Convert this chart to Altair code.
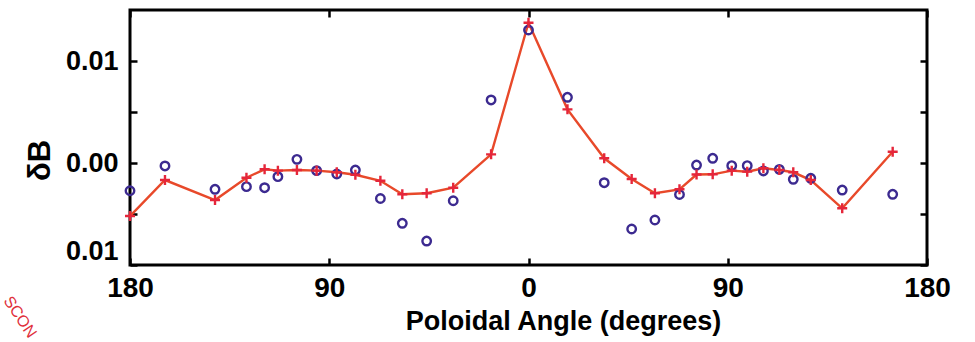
import altair as alt
import pandas as pd

# Poloidal angle of each probe (degrees)
angle = [-180.0, -164.2, -141.6, -127.4, -119.2, -113.2, -104.6, -95.7, -86.6, -78.2,
         -66.9, -57.0, -46.0, -34.0, -16.9, 0.0, 17.6, 34.2, 46.6, 57.1,
         68.2, 75.9, 83.2, 91.8, 98.8, 106.1, 113.3, 119.6, 127.5, 141.7, 164.5]
# measured dB (open circles)
measured = [-0.00272, -0.00029, -0.00258, -0.00232, -0.00242, -0.00134, 0.00036, -0.00075, -0.00108, -0.00069,
            -0.00348, -0.00591, -0.00765, -0.00370, 0.00618, 0.01304, 0.00644, -0.00193, -0.00647, -0.00559,
            -0.00309, -0.00020, 0.00046, -0.00026, -0.00026, -0.00078, -0.00062, -0.00160, -0.00150, -0.00265, -0.00307]
# model dB (line with crosses)
model = [-0.00520, -0.00167, -0.00363, -0.00144, -0.00062, -0.00075, -0.00069, -0.00075, -0.00091, -0.00115,
         -0.00174, -0.00307, -0.00297, -0.00242, 0.00085, 0.01375, 0.00526, 0.00046, -0.00157, -0.00297,
         -0.00258, -0.00113, -0.00111, -0.00075, -0.00085, -0.00052, -0.00069, -0.00091, -0.00167, -0.00444, 0.00111]

x_ticks = [-180, -90, 0, 90, 180]
y_ticks = [-0.01, -0.005, 0.0, 0.005, 0.01]

df = pd.DataFrame({"angle": angle, "measured": measured, "model": model})

FONT = "Liberation Sans, Arial, sans-serif"
xscale = alt.Scale(domain=[-180, 180], nice=False, zero=False)
yscale = alt.Scale(domain=[-0.01, 0.015], nice=False, zero=False)

common_axis = dict(domain=False, tickSize=7, tickWidth=2.5, tickColor="black", offset=-7, grid=False)

x_main = alt.X("angle:Q", scale=xscale, axis=alt.Axis(
    orient="bottom", values=x_ticks, labelExpr="format(abs(datum.value), 'd')",
    labelFont=FONT, labelFontSize=28, labelFontWeight="bold", labelColor="black",
    labelPadding=9, labelOverlap=False, labelFlush=False,
    title="Poloidal Angle (degrees)", titleFont=FONT, titleFontSize=27, titleFontWeight="bold",
    titleColor="black", titleX=433, titleY=50, titleAlign="center", titleBaseline="top",
    **common_axis))
y_main = alt.Y("model:Q", scale=yscale, axis=alt.Axis(
    orient="left", values=y_ticks,
    labelExpr="abs(datum.value) == 0.005 ? '' : format(abs(datum.value), '.2f')",
    labelFont=FONT, labelFontSize=27, labelFontWeight="bold", labelColor="black",
    labelPadding=12, labelOverlap=False, labelFlush=True,
    title="δB", titleFont=FONT, titleFontSize=31, titleFontWeight="bold", titleColor="black",
    titleAngle=270, titleX=-97, titleY=150, titleAlign="center", titleBaseline="middle",
    **common_axis))

x_top = alt.X("angle:Q", scale=xscale, axis=alt.Axis(
    orient="top", values=x_ticks, labels=False, title=None, **common_axis))
y_right = alt.Y("measured:Q", scale=yscale, axis=alt.Axis(
    orient="right", values=y_ticks, labels=False, title=None, **common_axis))

line = alt.Chart(df).mark_line(color="#e8492a", strokeWidth=2.4).encode(x=x_main, y=y_main)

circles = alt.Chart(df).mark_point(shape="circle", filled=False, size=72, strokeWidth=2.4,
                                   color="#3c2a90", opacity=1).encode(x=x_top, y=y_right)

crosses = alt.Chart(df).mark_point(shape="M-1,0L1,0M0,-1L0,1", filled=False, size=100,
                                   strokeWidth=2.4, color="#e5263a", opacity=1).encode(
    x=alt.X("angle:Q", scale=xscale, axis=None),
    y=alt.Y("model:Q", scale=yscale, axis=None))

stamp = alt.Chart(pd.DataFrame({"t": ["SCON"]})).mark_text(
    color="#e0303a", fontSize=16, angle=56, font="Liberation Sans, sans-serif",
    align="center", baseline="middle").encode(
    text="t:N", x=alt.value(-110), y=alt.value(307))

chart = alt.layer(line, circles, crosses, stamp).resolve_axis(
    x="independent", y="independent"
).properties(
    width=797, height=255,
    background="white",
    autosize=alt.AutoSizeParams(type="none"),
    padding={"left": 130, "top": 10, "right": 48, "bottom": 77},
).configure_view(stroke="black", strokeWidth=3)

chart.save("out.html", embed_options={"renderer": "svg", "actions": False})
